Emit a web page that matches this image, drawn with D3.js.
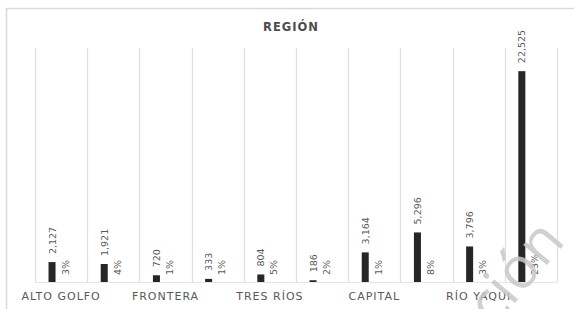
<!DOCTYPE html>
<html>
<head>
<meta charset="utf-8">
<script src="https://cdn.jsdelivr.net/npm/d3@7"></script>
<style>
  body { margin: 0; background: #fff; }
  svg { display: block; }
</style>
</head>
<body>
<svg id="chart"></svg>
<script>
// regiones (las etiquetas alternas no se muestran en el original)
const categories = ["ALTO GOLFO", "DESIERTO", "FRONTERA", "RÍO SONORA", "TRES RÍOS",
    "SIERRA", "CAPITAL", "CENTRO COSTA", "RÍO YAQUI", "RÍO MAYO"];
const shownLabels = ["ALTO GOLFO", "FRONTERA", "TRES RÍOS", "CAPITAL", "RÍO YAQUI"];
const totals = [2127, 1921, 720, 333, 804, 186, 3164, 5296, 3796, 22525];
const percents = [3, 4, 1, 1, 5, 2, 1, 8, 3, 23];
const yDomain = [0, 25000];

function main() {
    const width = 574;
    const height = 309;
    const plot = { left: 35, right: 557, top: 48, bottom: 282 };

    const svg = d3.select("#chart").attr("width", width).attr("height", height);

    // marco
    svg.append("rect")
        .attr("x", 6.5).attr("y", 8.5)
        .attr("width", 600).attr("height", 400)
        .attr("fill", "#fff").attr("stroke", "#d9d9d9").attr("stroke-width", 1.5);

    svg.append("text")
        .attr("x", 291).attr("y", 31)
        .attr("text-anchor", "middle")
        .style("font-family", "'DejaVu Sans', sans-serif")
        .style("font-size", "11.5px").style("font-weight", "bold")
        .style("letter-spacing", "1px")
        .attr("fill", "#4d4d4d")
        .text("REGIÓN");

    const x = d3.scaleBand().domain(categories).range([plot.left, plot.right]).padding(0);
    const x1 = d3.scaleBand().domain(["total", "pct"]).range([0, x.bandwidth()])
        .paddingInner(0.46).paddingOuter(1.24).align(0.42);
    const y = d3.scaleLinear().domain(yDomain).range([plot.bottom, plot.top]);

    // líneas verticales de separación
    const edges = categories.map(c => x(c)).concat([plot.right]);
    svg.append("g").selectAll("line").data(edges).join("line")
        .attr("x1", d => Math.round(d) + 0.5).attr("x2", d => Math.round(d) + 0.5)
        .attr("y1", plot.top).attr("y2", plot.bottom)
        .attr("stroke", "#e0e0e0").attr("stroke-width", 1.2);

    svg.append("line")
        .attr("x1", plot.left).attr("x2", plot.right)
        .attr("y1", plot.bottom + 0.5).attr("y2", plot.bottom + 0.5)
        .attr("stroke", "#e6e6e6");

    const rows = categories.map((c, i) => ({ cat: c, total: totals[i], pct: percents[i] }));

    const g = svg.append("g").selectAll("g").data(rows).join("g")
        .attr("transform", d => "translate(" + x(d.cat) + ",0)");

    g.append("rect")
        .attr("x", x1("total")).attr("width", x1.bandwidth())
        .attr("y", d => y(d.total)).attr("height", d => y(0) - y(d.total))
        .attr("fill", "#262626");

    const labelStyle = sel => sel
        .style("font-family", "'DejaVu Sans', sans-serif")
        .style("font-size", "9.5px")
        .attr("fill", "#595959");

    g.append("text")
        .attr("transform", d => "translate(" + (x1("total") + x1.bandwidth() / 2 + 3.5) + "," + (y(d.total) - 8) + ") rotate(-90)")
        .call(labelStyle)
        .text(d => d3.format(",")(d.total));

    g.append("text")
        .attr("transform", d => "translate(" + (x1("pct") + x1.bandwidth() / 2 + 3.5) + "," + (plot.bottom - 7) + ") rotate(-90)")
        .call(labelStyle)
        .text(d => d.pct + "%");

    const xAxis = d3.axisBottom(x).tickSize(0).tickPadding(10)
        .tickFormat(d => shownLabels.includes(d) ? d : "");
    const axisG = svg.append("g")
        .attr("transform", "translate(0," + plot.bottom + ")")
        .call(xAxis);
    axisG.select(".domain").remove();
    axisG.selectAll("text")
        .style("font-family", "'DejaVu Sans', sans-serif")
        .style("font-size", "11px")
        .style("letter-spacing", "1px")
        .attr("fill", "#595959");

    // marca de agua (cortada por el borde, como en el original)
    svg.append("text")
        .attr("transform", "translate(494,328) rotate(-50)")
        .style("font-family", "'Open Sans', sans-serif")
        .style("font-size", "58px")
        .attr("fill", "#c8c8c8")
        .attr("opacity", 0.85)
        .text("ción");
}

main();
</script>
</body>
</html>
